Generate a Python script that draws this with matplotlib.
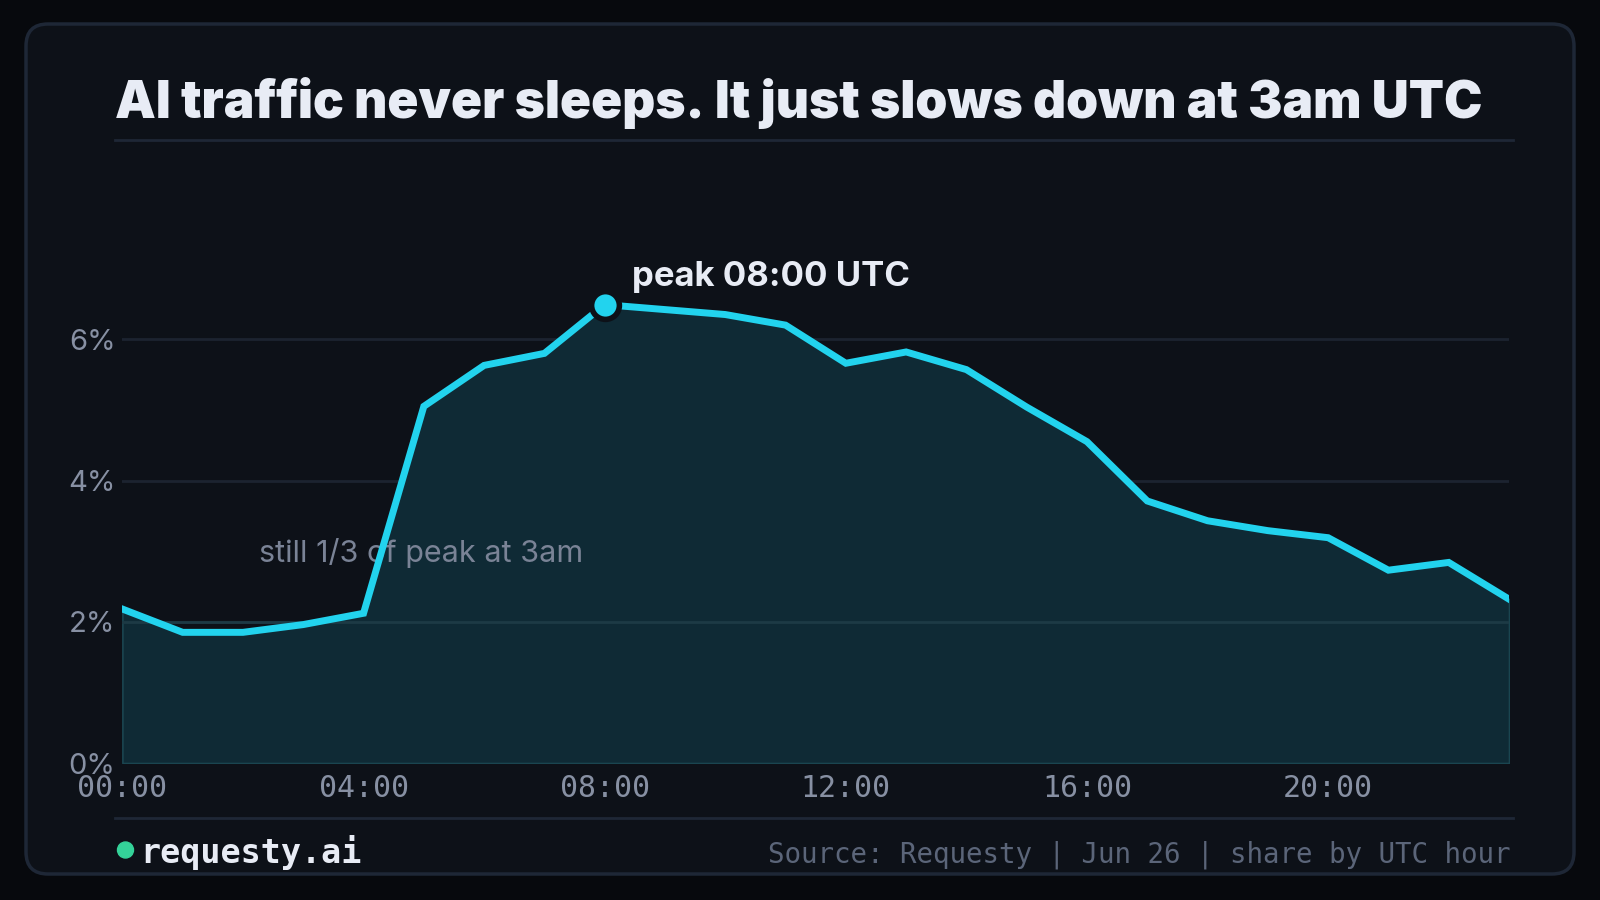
import matplotlib
matplotlib.use("Agg")
import matplotlib.pyplot as plt
from matplotlib.patches import FancyBboxPatch, Circle
from matplotlib.lines import Line2D

# share of daily AI traffic by UTC hour (%)
hours = list(range(24))
share = [2.18, 1.85, 1.85, 1.96, 2.12, 5.05, 5.63, 5.80, 6.49, 6.42, 6.35, 6.20,
         5.66, 5.82, 5.57, 5.04, 4.55, 3.71, 3.43, 3.29, 3.19, 2.73, 2.84, 2.32]
x_ticks = [0, 4, 8, 12, 16, 20]
x_labels = ["00:00", "04:00", "08:00", "12:00", "16:00", "20:00"]
y_ticks = [0, 2, 4, 6]
y_labels = ["0%", "2%", "4%", "6%"]

title = "AI traffic never sleeps. It just slows down at 3am UTC"
peak_label = "peak 08:00 UTC"
low_note = "still 1/3 of peak at 3am"
brand = "requesty.ai"
source = "Source: Requesty | Jun 26 | share by UTC hour"

BG = "#07090d"
CARD = "#0d1118"
BORDER = "#1e2736"
CYAN = "#22d3ee"
FILL = "#0f2a35"
GRID = "#1c2330"
MUTED = "#8790a3"
WHITE = "#e8ecf5"

W, H = 1600, 900


def fx(px):
    return px / W


def fy(py):
    # py measured from top of the image
    return 1 - py / H


fig = plt.figure(figsize=(16, 9), dpi=100, facecolor=BG)

# card (kept behind everything else)
card = FancyBboxPatch((26, H - 874), 1548, 850, boxstyle="round,pad=0,rounding_size=22",
                      transform=None, facecolor=CARD, edgecolor=BORDER, linewidth=2.5,
                      zorder=-10)
fig.patches.append(card)

# title + separators
fig.text(fx(115), fy(103), title, fontsize=37, fontweight="black", family="Inter",
         color=WHITE, va="center", ha="left")
fig.add_artist(Line2D([fx(115), fx(1513)], [fy(140), fy(140)], color=BORDER, lw=2))
fig.add_artist(Line2D([fx(115), fx(1513)], [fy(818), fy(818)], color=BORDER, lw=2))

# plot area
ax = fig.add_axes([fx(122.4), fy(763), fx(1509) - fx(122.4), (763 - 198) / H])
ax.set_facecolor("none")
ax.set_xlim(0, 23)
ax.set_ylim(0, 8)
for s in ax.spines.values():
    s.set_visible(False)

for t in y_ticks[1:]:
    ax.axhline(t, color=GRID, lw=2, zorder=0)

ax.fill_between(hours, share, 0, facecolor=FILL, edgecolor="#1a4550", lw=1.2, zorder=1)
ax.axhline(2, color="#1d3a45", lw=2, zorder=1.5)
ax.plot(hours, share, color=CYAN, lw=5, solid_joinstyle="miter", zorder=4)

peak_i = share.index(max(share))
ax.scatter([hours[peak_i]], [share[peak_i]], s=400, color=CYAN, edgecolor=CARD,
           linewidth=4, zorder=5)
ax.annotate(peak_label, (hours[peak_i], share[peak_i]), xytext=(20, 20),
            textcoords="offset points", fontsize=25, fontweight="bold", family="Inter",
            color=WHITE, va="center", ha="left", zorder=6)
ax.text(2.27, 2.98, low_note, fontsize=22, family="Inter", color="#7a8396",
        va="center", ha="left", zorder=3)

ax.set_xticks(x_ticks)
ax.set_xticklabels(x_labels, family="DejaVu Sans Mono", fontsize=21.5, color=MUTED)
ax.set_yticks(y_ticks)
ax.set_yticklabels(y_labels, family="Inter", fontsize=21, color=MUTED)
ax.tick_params(length=0, pad=5)
ax.tick_params(axis="x", pad=8)

# footer
fig.add_artist(Circle((125.5, H - 850), 8, transform=None, color="#34d399", zorder=5))
fig.text(fx(140), fy(853), brand, fontsize=24, fontweight="bold", family="DejaVu Sans Mono",
         color=WHITE, va="center", ha="left")
fig.text(fx(1510), fy(855), source, fontsize=19.8, family="DejaVu Sans Mono",
         color="#5b6579", va="center", ha="right")

fig.savefig("out.png", dpi=100, facecolor=BG)
